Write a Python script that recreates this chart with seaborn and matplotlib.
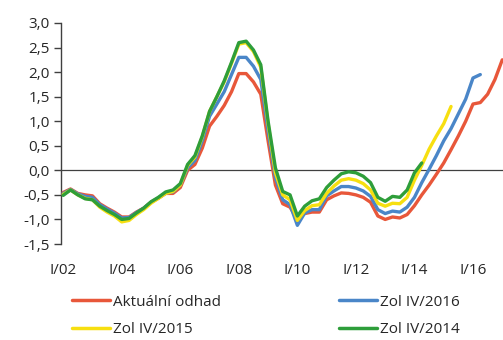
import matplotlib
matplotlib.use("Agg")
import matplotlib.pyplot as plt
import numpy as np
import pandas as pd
import seaborn as sns

# quarterly data, starting Q1 2002
aktualni = [-0.45, -0.38, -0.47, -0.50, -0.52, -0.68, -0.77, -0.85, -0.95, -0.95,
            -0.85, -0.77, -0.65, -0.57, -0.47, -0.47, -0.35, 0.00, 0.12, 0.45,
            0.90, 1.10, 1.32, 1.60, 1.97, 1.97, 1.80, 1.55, 0.60, -0.30,
            -0.68, -0.75, -1.00, -0.88, -0.85, -0.85, -0.60, -0.52, -0.46, -0.47,
            -0.50, -0.55, -0.65, -0.93, -1.00, -0.95, -0.97, -0.90, -0.72, -0.50,
            -0.30, -0.08, 0.15, 0.42, 0.70, 1.00, 1.35, 1.38, 1.55, 1.85, 2.25]
zol_2016 = [-0.47, -0.39, -0.48, -0.53, -0.55, -0.70, -0.79, -0.87, -0.97, -0.96,
            -0.86, -0.77, -0.65, -0.56, -0.46, -0.44, -0.30, 0.05, 0.20, 0.60,
            1.10, 1.35, 1.60, 1.95, 2.30, 2.30, 2.12, 1.85, 0.80, -0.15,
            -0.60, -0.70, -1.12, -0.87, -0.80, -0.80, -0.52, -0.42, -0.33, -0.33,
            -0.36, -0.42, -0.53, -0.80, -0.88, -0.83, -0.85, -0.75, -0.55, -0.25,
            0.02, 0.30, 0.60, 0.85, 1.15, 1.45, 1.88, 1.95]
zol_2015 = [-0.49, -0.40, -0.50, -0.57, -0.60, -0.75, -0.85, -0.93, -1.05, -1.02,
            -0.90, -0.80, -0.67, -0.57, -0.47, -0.43, -0.30, 0.10, 0.27, 0.68,
            1.20, 1.50, 1.80, 2.18, 2.57, 2.60, 2.42, 2.10, 0.95, -0.05,
            -0.50, -0.60, -1.02, -0.82, -0.72, -0.70, -0.47, -0.32, -0.20, -0.17,
            -0.20, -0.27, -0.40, -0.67, -0.73, -0.67, -0.68, -0.55, -0.20, 0.10,
            0.43, 0.70, 0.95, 1.30]
zol_2014 = [-0.51, -0.40, -0.50, -0.58, -0.60, -0.73, -0.82, -0.90, -1.00, -0.98,
            -0.87, -0.77, -0.64, -0.55, -0.44, -0.40, -0.27, 0.12, 0.30, 0.70,
            1.20, 1.50, 1.82, 2.20, 2.60, 2.63, 2.45, 2.15, 1.00, 0.05,
            -0.43, -0.50, -0.93, -0.73, -0.62, -0.58, -0.35, -0.20, -0.07, -0.03,
            -0.05, -0.12, -0.25, -0.55, -0.63, -0.53, -0.55, -0.40, -0.05, 0.15]

series_names = ["Aktuální odhad", "Zol IV/2016", "Zol IV/2015", "Zol IV/2014"]
series_values = [aktualni, zol_2016, zol_2015, zol_2014]
colors = ["#E8573A", "#4A86C8", "#F7DF10", "#2E9E3A"]

tick_pos = [0, 8, 16, 24, 32, 40, 48, 56]
tick_labels = ["I/02", "I/04", "I/06", "I/08", "I/10", "I/12", "I/14", "I/16"]
y_ticks = [-1.5, -1.0, -0.5, 0.0, 0.5, 1.0, 1.5, 2.0, 2.5, 3.0]

rows = []
for name, vals in zip(series_names, series_values):
    for i, v in enumerate(vals):
        rows.append({"q": i, "val": v, "serie": name})
df = pd.DataFrame(rows)

sns.set_style("white")
plt.rcParams["font.family"] = ["Open Sans", "DejaVu Sans"]

fig = plt.figure(figsize=(5.03, 3.40), dpi=100)
ax = fig.add_axes([61 / 503, 1 - 244 / 340, 1 - 61 / 503, (244 - 23) / 340])

ax.axhline(0, color="#404040", lw=0.9, zorder=1)
sns.lineplot(data=df, x="q", y="val", hue="serie", hue_order=series_names,
             palette=colors, linewidth=2.4, ax=ax, legend=True, zorder=3)

ax.set_xlim(-0.3, 60.1)
ax.set_ylim(-1.5, 3.0)
ax.set_yticks(y_ticks)
ax.set_yticklabels([f"{t:.1f}".replace(".", ",") for t in y_ticks], fontsize=11)
ax.set_xticks(tick_pos)
ax.set_xticklabels(tick_labels, fontsize=11)
ax.tick_params(axis="x", length=0, pad=14)
ax.tick_params(axis="y", length=5, width=1, color="#404040", direction="out", pad=3,
               left=True)
ax.set_xlabel("")
ax.set_ylabel("")
for s in ["top", "right", "bottom"]:
    ax.spines[s].set_visible(False)
ax.spines["left"].set_color("#404040")
ax.spines["left"].set_linewidth(1)

handles, labels = ax.get_legend_handles_labels()
ax.get_legend().remove()
order = [0, 2, 1, 3]
leg = fig.legend([handles[i] for i in order], [labels[i] for i in order],
                 loc="upper left", bbox_to_anchor=(58 / 503, 1 - 281 / 340),
                 ncol=2, frameon=False, fontsize=11, handlelength=2.5,
                 handletextpad=0.2, columnspacing=7.7, labelspacing=0.8)
for h in leg.get_lines():
    h.set_linewidth(2.5)

fig.savefig("out.png", dpi=100)
